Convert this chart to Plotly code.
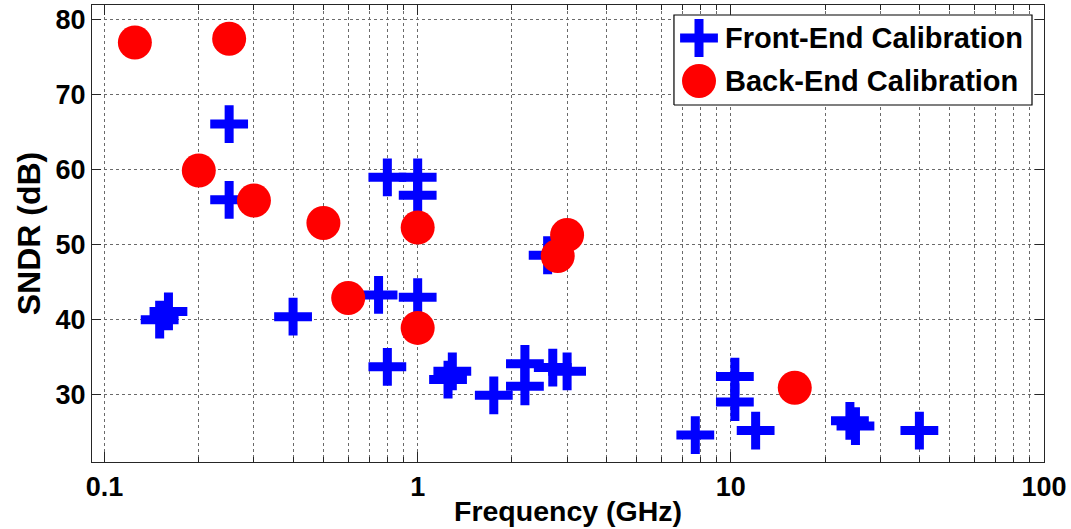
import plotly.graph_objects as go

# Front-end calibrated ADCs: sampling frequency (GHz) and SNDR (dB)
front_freq = [0.15, 0.16, 0.25, 0.25, 0.40, 0.75, 0.80, 0.80, 1.0, 1.0, 1.0,
              1.25, 1.29, 1.75, 2.2, 2.2, 2.6, 2.7, 3.0, 7.7, 10.3, 10.3,
              12.0, 24.0, 25.0, 40.0]
front_sndr = [40.0, 41.1, 66.1, 56.0, 40.4, 43.3, 59.0, 33.7, 59.0, 56.6, 43.0,
              32.0, 33.1, 29.9, 34.1, 31.1, 48.6, 33.6, 33.1, 24.6, 32.4, 29.0,
              25.2, 26.5, 25.8, 25.2]

# Back-end calibrated ADCs
back_freq = [0.125, 0.25, 0.2, 0.3, 0.5, 0.6, 1.0, 1.0, 3.0, 2.8, 16.0]
back_sndr = [77.0, 77.5, 59.9, 55.9, 52.9, 42.9, 52.3, 38.9, 51.3, 48.5, 30.9]

x_tickvals = [0.1, 1, 10, 100]
x_ticktext = ["0.1", "1", "10", "100"]
y_tickvals = [30, 40, 50, 60, 70, 80]

legend_names = ["Front-End Calibration", "Back-End Calibration"]

BLUE = "#0000FF"
RED = "#FF0000"
FONT = "Liberation Sans"
AXIS_COLOR = "#262626"
GRID_COLOR = "#6a6a6a"

cross_marker = dict(symbol="cross-thin", size=27, color=BLUE,
                    line=dict(color=BLUE, width=9))
circle_marker = dict(symbol="circle", size=34, color=RED, line=dict(width=0))

fig = go.Figure()

fig.add_trace(go.Scatter(
    x=front_freq, y=front_sndr, mode="markers", name=legend_names[0],
    marker=cross_marker, showlegend=False,
))
fig.add_trace(go.Scatter(
    x=back_freq, y=back_sndr, mode="markers", name=legend_names[1],
    marker=circle_marker, showlegend=False,
))

# Legend: white box and large symbols on a hidden overlay axis (0..1 of plot area)
box_x0, box_x1 = 0.6113, 0.9874
box_y0, box_y1 = 0.7812, 0.9781
sym_x = 0.6376
row_y = [0.9278, 0.8337]
text_x = 0.6628

fig.add_trace(go.Scatter(
    x=[box_x0, box_x1, box_x1, box_x0, box_x0],
    y=[box_y0, box_y0, box_y1, box_y1, box_y0],
    xaxis="x2", yaxis="y2", mode="lines", fill="toself",
    fillcolor="white", line=dict(color="black", width=1.2),
    showlegend=False, hoverinfo="skip",
))
fig.add_trace(go.Scatter(
    x=[sym_x], y=[row_y[0]], xaxis="x2", yaxis="y2", mode="markers",
    marker=cross_marker, showlegend=False, hoverinfo="skip",
))
fig.add_trace(go.Scatter(
    x=[sym_x], y=[row_y[1]], xaxis="x2", yaxis="y2", mode="markers",
    marker=circle_marker, showlegend=False, hoverinfo="skip",
))

for name, yy in zip(legend_names, row_y):
    fig.add_annotation(text=name, xref="paper", yref="paper",
                       x=text_x, y=yy, xanchor="left", yanchor="middle",
                       showarrow=False,
                       font=dict(family=FONT, size=29, color="black",
                                 weight="bold"))

fig.update_layout(
    width=1071, height=529,
    margin=dict(l=92, r=27, t=5, b=67),
    paper_bgcolor="white", plot_bgcolor="white",
    showlegend=False,
    font=dict(family=FONT, size=26, color="black", weight="bold"),
    xaxis=dict(
        type="log", range=[-1.04, 2.0],
        tickvals=x_tickvals, ticktext=x_ticktext,
        ticks="inside", ticklen=10, tickwidth=1, tickcolor=AXIS_COLOR,
        showline=True, linecolor=AXIS_COLOR, linewidth=1.2, mirror="ticks",
        showgrid=True, gridcolor=GRID_COLOR, griddash="dot", gridwidth=1,
        minor=dict(dtick="D1", ticks="inside", ticklen=5,
                   tickcolor=AXIS_COLOR, showgrid=True,
                   gridcolor=GRID_COLOR, griddash="dot", gridwidth=1),
        zeroline=False,
        tickfont=dict(family=FONT, size=27, color="black", weight="bold"),
        title=dict(text="Frequency (GHz)", standoff=0,
                   font=dict(family=FONT, size=28.5, color="black",
                             weight="bold")),
    ),
    yaxis=dict(
        range=[21, 82], tickvals=y_tickvals,
        ticks="inside", ticklen=9, tickwidth=1, tickcolor=AXIS_COLOR,
        showline=True, linecolor=AXIS_COLOR, linewidth=1.2, mirror="ticks",
        showgrid=True, gridcolor=GRID_COLOR, griddash="dot", gridwidth=1,
        zeroline=False,
        tickfont=dict(family=FONT, size=27, color="black", weight="bold"),
        title=dict(text="SNDR (dB)", standoff=5,
                   font=dict(family=FONT, size=32, color="black",
                             weight="bold")),
    ),
    xaxis2=dict(overlaying="x", range=[0, 1], visible=False, fixedrange=True),
    yaxis2=dict(overlaying="y", range=[0, 1], visible=False, fixedrange=True),
)

fig.write_html("out.html")
